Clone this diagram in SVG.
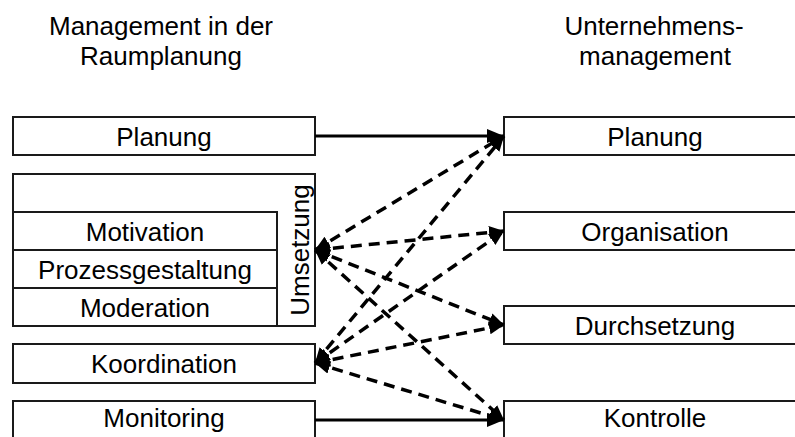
<svg xmlns="http://www.w3.org/2000/svg" width="795" height="437" viewBox="0 0 795 437">
  <style>
    .box { fill: #ffffff; stroke: #1a1a1a; stroke-width: 2; }
    .lbl { font-family: "Liberation Sans", Arial, sans-serif; font-size: 26px; fill: #000000; text-anchor: middle; }
    .solid { stroke: #000000; stroke-width: 3; fill: none; marker-end: url(#head); }
    .dash { stroke: #000000; stroke-width: 3.5; fill: none; stroke-dasharray: 11 7; marker-start: url(#dhead); marker-end: url(#dhead); }
  </style>
  <defs>
    <marker id="head" markerUnits="userSpaceOnUse" markerWidth="18" markerHeight="16" refX="17" refY="7" orient="auto">
      <path d="M0,0 L17,7 L0,14 z" fill="#000000"/>
    </marker>
    <marker id="dhead" markerUnits="userSpaceOnUse" markerWidth="17" markerHeight="14" refX="15" refY="6.5" orient="auto-start-reverse">
      <path d="M0,0 L15,6.5 L0,13 z" fill="#000000"/>
    </marker>
  </defs>

  <rect width="795" height="437" fill="#ffffff"/>

  <!-- column headings -->
  <g id="heading-left">
    <text class="lbl" x="161" y="35">Management in der</text>
    <text class="lbl" x="161" y="65">Raumplanung</text>
  </g>
  <g id="heading-right">
    <text class="lbl" x="654" y="35">Unternehmens-</text>
    <text class="lbl" x="655" y="65">management</text>
  </g>

  <!-- left column -->
  <g id="l-planung">
    <rect class="box" x="13" y="117" width="302" height="38"/>
    <text class="lbl" x="164" y="146">Planung</text>
  </g>
  <g id="l-umsetzung">
    <rect class="box" x="13" y="174" width="302" height="152"/>
    <text class="lbl" transform="translate(309,250) rotate(-90)" x="0" y="0">Umsetzung</text>
  </g>
  <g id="l-motivation">
    <rect class="box" x="13" y="212" width="264" height="38"/>
    <text class="lbl" x="145" y="241">Motivation</text>
  </g>
  <g id="l-prozessgestaltung">
    <rect class="box" x="13" y="250" width="264" height="38"/>
    <text class="lbl" x="145" y="279">Prozessgestaltung</text>
  </g>
  <g id="l-moderation">
    <rect class="box" x="13" y="288" width="264" height="38"/>
    <text class="lbl" x="145" y="317">Moderation</text>
  </g>
  <g id="l-koordination">
    <rect class="box" x="13" y="344" width="302" height="39"/>
    <text class="lbl" x="164" y="373">Koordination</text>
  </g>
  <g id="l-monitoring">
    <rect class="box" x="13" y="401" width="302" height="50"/>
    <text class="lbl" x="164" y="427">Monitoring</text>
  </g>

  <!-- right column -->
  <g id="r-planung">
    <rect class="box" x="504" y="117" width="302" height="38"/>
    <text class="lbl" x="655" y="146">Planung</text>
  </g>
  <g id="r-organisation">
    <rect class="box" x="504" y="212" width="302" height="38"/>
    <text class="lbl" x="655" y="241">Organisation</text>
  </g>
  <g id="r-durchsetzung">
    <rect class="box" x="504" y="306" width="302" height="38"/>
    <text class="lbl" x="655" y="335">Durchsetzung</text>
  </g>
  <g id="r-kontrolle">
    <rect class="box" x="504" y="401" width="302" height="50"/>
    <text class="lbl" x="655" y="427">Kontrolle</text>
  </g>

  <!-- connectors -->
  <g id="connectors">
    <line class="solid" x1="315" y1="136" x2="504" y2="136"/>
    <line class="solid" x1="315" y1="420" x2="504" y2="420"/>

    <line class="dash" x1="315" y1="250" x2="504" y2="136"/>
    <line class="dash" x1="315" y1="250" x2="504" y2="231"/>
    <line class="dash" x1="315" y1="250" x2="504" y2="325"/>
    <line class="dash" x1="315" y1="250" x2="504" y2="420"/>

    <line class="dash" x1="315" y1="363" x2="504" y2="136"/>
    <line class="dash" x1="315" y1="363" x2="504" y2="231"/>
    <line class="dash" x1="315" y1="363" x2="504" y2="325"/>
    <line class="dash" x1="315" y1="363" x2="504" y2="420"/>
  </g>
</svg>
